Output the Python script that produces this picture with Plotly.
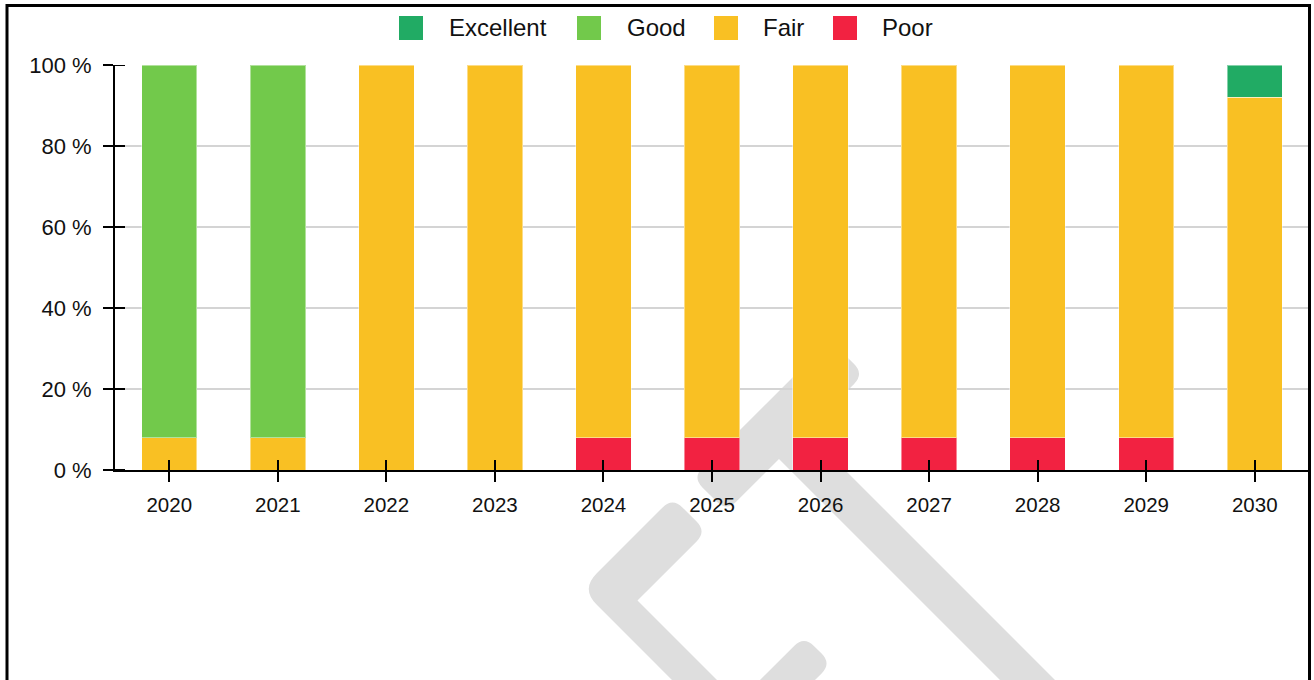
import plotly.graph_objects as go

# ---- data -------------------------------------------------------------
years = ["2020", "2021", "2022", "2023", "2024", "2025",
         "2026", "2027", "2028", "2029", "2030"]

excellent = [0, 0, 0, 0, 0, 0, 0, 0, 0, 0, 8]
good      = [92, 92, 0, 0, 0, 0, 0, 0, 0, 0, 0]
fair      = [8, 8, 100, 100, 92, 92, 92, 92, 92, 92, 92]
poor      = [0, 0, 0, 0, 8, 8, 8, 8, 8, 8, 0]

series_names = ["Excellent", "Good", "Fair", "Poor"]
series_values = {"Excellent": excellent, "Good": good, "Fair": fair, "Poor": poor}
series_colors = {"Excellent": "#21AB64", "Good": "#72C94B",
                 "Fair": "#F9C023", "Poor": "#F22241"}

y_ticks = [0, 20, 40, 60, 80, 100]
y_tick_labels = ["0 %", "20 %", "40 %", "60 %", "80 %", "100 %"]

# ---- page geometry (pixels) -------------------------------------------
W, H = 1314, 680
PL, PR, PT, PB = 115, 1309, 65, 470          # plot area edges


def px(x):
    return (x - PL) / (PR - PL)


def py(y):
    return (PB - y) / (PB - PT)


FONT = "Liberation Sans, Arial, sans-serif"
INK = "#111111"
TICK_LEN = 10

fig = go.Figure()

# stacked bars, bottom to top
for name in ["Poor", "Fair", "Good", "Excellent"]:
    fig.add_trace(go.Bar(
        x=years,
        y=[v if v else None for v in series_values[name]],
        name=name,
        marker=dict(color=series_colors[name],
                    line=dict(color="rgba(255,255,255,0.45)", width=1)),
        showlegend=False,
        hovertemplate="%{x}: %{y} %<extra>" + name + "</extra>",
    ))

# invisible companion trace that carries the inner half of the crossing x ticks
fig.add_trace(go.Scatter(
    x=years, y=[0] * len(years), xaxis="x2", yaxis="y",
    mode="markers", marker=dict(opacity=0), showlegend=False,
    hoverinfo="skip",
))


# ---- watermark logo ------------------------------------------------------
def uv(u, v):
    return ((u + v) / 2.0, (u - v) / 2.0)


def rounded_path(pts, radii):
    n = len(pts)
    segs = []
    for i in range(n):
        p0 = pts[i - 1]
        p1 = pts[i]
        p2 = pts[(i + 1) % n]
        r = radii[i]
        if r <= 0:
            a = b = p1
        else:
            d0 = ((p1[0] - p0[0]) ** 2 + (p1[1] - p0[1]) ** 2) ** 0.5
            d2 = ((p2[0] - p1[0]) ** 2 + (p2[1] - p1[1]) ** 2) ** 0.5
            a = (p1[0] + (p0[0] - p1[0]) * r / d0, p1[1] + (p0[1] - p1[1]) * r / d0)
            b = (p1[0] + (p2[0] - p1[0]) * r / d2, p1[1] + (p2[1] - p1[1]) * r / d2)
        segs.append((a, p1, b))
    out = "M%.5f,%.5f" % (px(segs[0][2][0]), py(segs[0][2][1]))
    for i in range(1, n + 1):
        a, c, b = segs[i % n]
        out += " L%.5f,%.5f" % (px(a[0]), py(a[1]))
        out += " Q%.5f,%.5f %.5f,%.5f" % (px(c[0]), py(c[1]), px(b[0]), py(b[1]))
    return out + " Z"


logo_parts = [
    ([uv(1170, 490), uv(1238, 490), uv(1238, 375), uv(1800, 375),
      uv(1800, 320), uv(1238, 320), uv(1238, 215), uv(1170, 215)],
     [14, 14, 0, 0, 0, 0, 14, 14]),
    ([uv(1170, 175), uv(1238, 175), uv(1238, 37), uv(1560, 37),
      uv(1560, -8), uv(1170, -8)],
     [14, 14, 0, 0, 0, 22]),
    ([uv(1440, 168), uv(1495, 168), uv(1495, -200), uv(1440, -200)],
     [14, 14, 0, 0]),
]

shapes = []
for pts, radii in logo_parts:
    shapes.append(dict(type="path", xref="paper", yref="paper",
                       path=rounded_path(pts, radii),
                       fillcolor="#DEDEDE", line=dict(width=0), layer="below"))

# inner half of the crossing y ticks
for v in y_ticks:
    shapes.append(dict(type="line", xref="x domain", yref="y",
                       x0=0, x1=TICK_LEN / (PR - PL), y0=v, y1=v,
                       line=dict(color="black", width=2), layer="above"))

# frame around the page
shapes.append(dict(type="rect", xref="paper", yref="paper",
                   x0=px(7), x1=px(1309.5), y0=py(720), y1=py(5.5),
                   line=dict(color="black", width=3), fillcolor="rgba(0,0,0,0)",
                   layer="above"))

# ---- legend (drawn swatches + labels) ----------------------------------
legend_swatch_x = [399, 577, 714, 833]
legend_text_x = [447, 625, 761, 880]
legend_cy = 28
annotations = []
for name, sx, tx in zip(series_names, legend_swatch_x, legend_text_x):
    shapes.append(dict(type="rect", xref="paper", yref="paper",
                       x0=px(sx), x1=px(sx + 24), y0=py(legend_cy + 12), y1=py(legend_cy - 12),
                       fillcolor=series_colors[name], line=dict(width=0), layer="above"))
    annotations.append(dict(xref="paper", yref="paper", x=px(tx), y=py(legend_cy),
                            xanchor="left", yanchor="middle", text=name, showarrow=False,
                            font=dict(family=FONT, size=24, color=INK)))

axis_common = dict(showline=True, linecolor="black", linewidth=2,
                   tickcolor="black", tickwidth=2, ticklen=TICK_LEN, automargin=False)

fig.update_layout(
    width=W, height=H, autosize=False,
    margin=dict(l=PL, r=W - PR, t=PT, b=H - PB, pad=0),
    paper_bgcolor="white", plot_bgcolor="rgba(0,0,0,0)",
    barmode="stack", bargap=0.49,
    showlegend=False,
    font=dict(family=FONT, size=21, color=INK),
    xaxis=dict(type="category", categoryorder="array", categoryarray=years,
               range=[-0.5, len(years) - 0.5], ticks="outside", showgrid=False,
               zeroline=False, ticklabelstandoff=5,
               tickfont=dict(family=FONT, size=20.5, color=INK), **axis_common),
    yaxis=dict(range=[0, 100], tickmode="array", tickvals=y_ticks,
               ticktext=y_tick_labels, ticks="outside",
               showgrid=True, gridcolor="#D4D4D4", gridwidth=1.5, zeroline=False,
               ticklabelstandoff=7,
               tickfont=dict(family=FONT, size=22, color=INK), **axis_common),
    xaxis2=dict(type="category", categoryorder="array", categoryarray=years,
                overlaying="x", matches="x", ticks="inside", showticklabels=False,
                showgrid=False, zeroline=False, showline=False,
                tickcolor="black", tickwidth=2, ticklen=TICK_LEN, automargin=False),
    shapes=shapes,
    annotations=annotations,
)

fig.write_html("out.html", config={"displayModeBar": False})
